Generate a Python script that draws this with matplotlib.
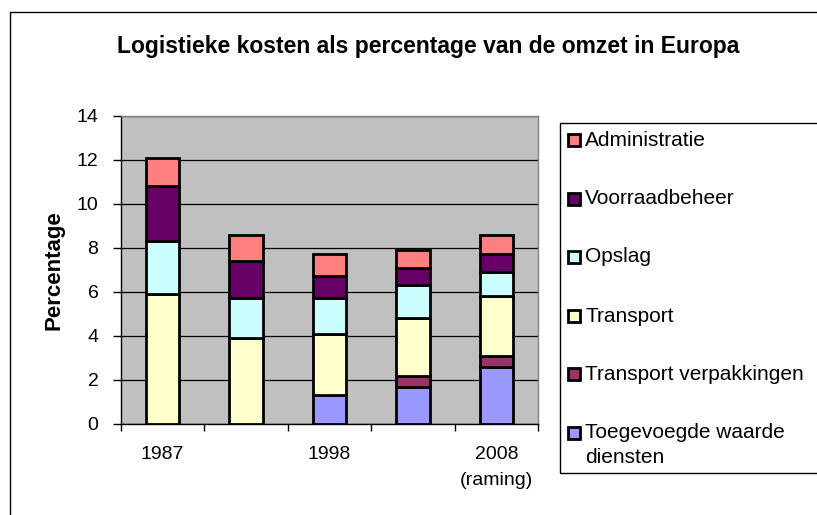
import numpy as np
import matplotlib
matplotlib.use("Agg")
import matplotlib.pyplot as plt
from matplotlib.patches import Rectangle

plt.rcParams['font.family'] = ['Liberation Sans', 'DejaVu Sans']

# data
categories = ['1987', '', '1998', '', '2008\n(raming)']
series_names = ['Toegevoegde waarde\ndiensten', 'Transport verpakkingen', 'Transport',
                'Opslag', 'Voorraadbeheer', 'Administratie']
toegevoegde = [0, 0, 1.3, 1.7, 2.6]
verpakkingen = [0, 0, 0, 0.5, 0.5]
transport = [5.9, 3.9, 2.8, 2.6, 2.7]
opslag = [2.4, 1.8, 1.6, 1.5, 1.1]
voorraad = [2.5, 1.7, 1.0, 0.8, 0.8]
administratie = [1.3, 1.2, 1.0, 0.8, 0.9]
colors = ['#9999FF', '#993366', '#FFFFCC', '#CCFFFF', '#660066', '#FF8080']

W, H = 817, 515
fig = plt.figure(figsize=(W / 100, H / 100), dpi=100)


def fx(x):
    return x / W


def fy(y):
    return 1 - y / H


# plot area in pixels
left, right, top, bottom = 120.7, 538, 115.7, 424
ax = fig.add_axes([fx(left), fy(bottom), fx(right - left), (bottom - top) / H])
ax.set_facecolor('#C0C0C0')

x = np.arange(len(categories))
base = np.zeros(len(categories))
for vals, col in zip([toegevoegde, verpakkingen, transport, opslag, voorraad, administratie], colors):
    ax.bar(x, vals, width=0.4, bottom=base, color=col, edgecolor='black', linewidth=2, zorder=3)
    base += np.array(vals)

ax.set_xlim(-0.5, len(categories) - 0.5)
ax.set_ylim(0, 14)
ax.set_yticks(range(0, 15, 2))
ax.yaxis.grid(True, color='black', linewidth=0.9)
ax.set_axisbelow(True)

ax.set_xticks(x)
ax.set_xticklabels(categories, fontsize=14, linespacing=1.65)
ax.set_xticks(np.arange(-0.5, len(categories)), minor=True)
ax.tick_params(axis='x', which='major', length=0, pad=16)
ax.tick_params(axis='x', which='minor', length=5, width=1, direction='out')
ax.tick_params(axis='y', length=6, width=1, direction='out', pad=10, labelsize=14)

for s in ['top', 'right']:
    ax.spines[s].set_color('#808080')
    ax.spines[s].set_linewidth(1)
for s in ['left', 'bottom']:
    ax.spines[s].set_color('black')
    ax.spines[s].set_linewidth(1)

# title and axis label
fig.text(fx(428), fy(46), 'Logistieke kosten als percentage van de omzet in Europa',
         ha='center', va='center', fontsize=16.5, fontweight='bold')
fig.text(fx(54), fy(270), 'Percentage', rotation=90, ha='center', va='center',
         fontsize=16, fontweight='bold')

# outer chart border (cut off at right and bottom)
fig.patches.append(Rectangle((fx(9.5), fy(600)), fx(900), (600 - 12) / H,
                             transform=fig.transFigure, fill=False,
                             edgecolor='black', linewidth=1))

# legend box
fig.patches.append(Rectangle((fx(560), fy(473)), fx(300), (473 - 123) / H,
                             transform=fig.transFigure, fill=False,
                             edgecolor='black', linewidth=1))
legend_y = [433, 374, 316, 257, 199, 140]
for name, col, ly in zip(series_names, colors, legend_y):
    fig.patches.append(Rectangle((fx(568), fy(ly + 6)), fx(12), 12 / H,
                                 transform=fig.transFigure, facecolor=col,
                                 edgecolor='black', linewidth=2))
    if '\n' in name:
        fig.text(fx(585), fy(ly - 10), name, ha='left', va='top',
                 fontsize=15, linespacing=1.4)
    else:
        fig.text(fx(585), fy(ly), name, ha='left', va='center', fontsize=15)

fig.savefig('out.png', dpi=100)
